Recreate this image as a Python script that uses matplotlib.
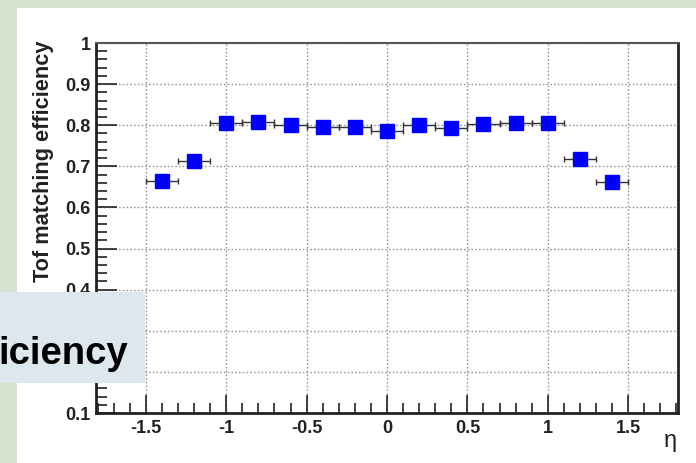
"""TOF matching efficiency versus eta (ROOT-style plot on a slide)."""
from matplotlib import pyplot as plt
from matplotlib.patches import Rectangle
from matplotlib.ticker import MultipleLocator, FuncFormatter

# bin centres in eta, half bin width and efficiency
eta = [-1.4, -1.2, -1.0, -0.8, -0.6, -0.4, -0.2, 0.0,
       0.2, 0.4, 0.6, 0.8, 1.0, 1.2, 1.4]
eta_err = [0.1] * len(eta)
eff = [0.664, 0.713, 0.805, 0.808, 0.801, 0.796, 0.796, 0.786,
       0.800, 0.794, 0.803, 0.806, 0.805, 0.717, 0.663]

ylabel = "Tof matching efficiency"
xlabel = "\u03b7"
overlay_text = "iciency"

plt.rcParams['font.family'] = ['Liberation Sans', 'DejaVu Sans']

W, H = 696, 463
fig = plt.figure(figsize=(W / 100, H / 100), dpi=100, facecolor='#d4e3d0')

# white slide panel
fig.add_artist(Rectangle((17 / W, 0), 1, 1 - 8 / H, transform=fig.transFigure,
                         facecolor='white', edgecolor='none', zorder=0))

ax = fig.add_axes([96 / W, 1 - 413 / H, (678 - 96) / W, (413 - 43) / H])
ax.set_facecolor('white')

ax.errorbar(eta, eff, xerr=eta_err, fmt='s', color='blue', markersize=9.5,
            markeredgecolor='blue', ecolor='#333333', elinewidth=1,
            capsize=2, capthick=1, zorder=3)

ax.set_xlim(-1.81, 1.81)
ax.set_ylim(0.1, 1.0)

ax.xaxis.set_major_locator(MultipleLocator(0.5))
ax.xaxis.set_minor_locator(MultipleLocator(0.1))
ax.yaxis.set_major_locator(MultipleLocator(0.1))
ax.yaxis.set_minor_locator(MultipleLocator(0.02))
fmt = FuncFormatter(lambda v, p: f"{v:g}".replace("\u2212", "-"))
ax.xaxis.set_major_formatter(fmt)
ax.yaxis.set_major_formatter(fmt)

ax.tick_params(which='both', direction='in', color='#222222', width=1.2,
               top=False, right=False)
ax.tick_params(axis='x', which='major', length=13, pad=5)
ax.tick_params(axis='x', which='minor', length=7)
ax.tick_params(axis='y', which='major', length=15, pad=4)
ax.tick_params(axis='y', which='minor', length=8)
for lab in ax.get_xticklabels() + ax.get_yticklabels():
    lab.set_fontsize(13)
    lab.set_fontweight('bold')
    lab.set_color('#222222')

ax.grid(True, which='major', linestyle=(0, (1.2, 1.5)), color='#999999',
        linewidth=1)
ax.set_axisbelow(True)

for side in ['left', 'bottom', 'right']:
    ax.spines[side].set_linewidth(2)
    ax.spines[side].set_color('#222222')
ax.spines['top'].set_linewidth(1.5)
ax.spines['top'].set_color('#555555')

fig.text(44 / W, 1 - 40 / H, ylabel, rotation=90, ha='center', va='top',
         fontsize=15.7, fontweight='bold', color='#222222')
fig.text(670 / W, 1 - 441 / H, xlabel, ha='center', va='center',
         fontsize=17, color='#222222')

# slide title box overlapping the plot
fig.add_artist(Rectangle((0, 1 - 383 / H), 145 / W, 91 / H,
                         transform=fig.transFigure, facecolor='#dde8ee',
                         edgecolor='none', zorder=5))
fig.text(-2 / W, 1 - 364 / H, overlay_text, ha='left', va='baseline',
         fontsize=27.5, fontweight='bold', color='black', zorder=6)

fig.savefig("out.png", dpi=100, facecolor=fig.get_facecolor())
